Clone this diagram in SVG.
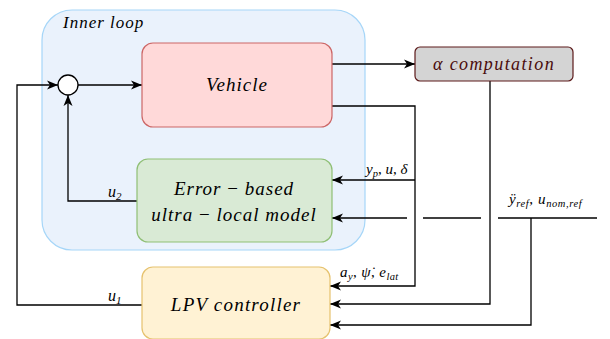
<svg xmlns="http://www.w3.org/2000/svg" width="610" height="339" viewBox="0 0 610 339">
  <style>
    .wire { fill: none; stroke: #000; stroke-width: 1.3; }
    text { font-family: "Liberation Serif", "DejaVu Serif", serif; font-style: italic; fill: #000; }
    .up { font-style: normal; }
  </style>
  <defs>
    <marker id="arrow" markerUnits="userSpaceOnUse" markerWidth="12" markerHeight="10" refX="11" refY="5" orient="auto">
      <path d="M0,0.5 L11,5 L0,9.5 L3,5 z" fill="#000"/>
    </marker>
  </defs>

  <!-- inner loop container -->
  <g id="inner-loop">
    <rect x="42" y="10" width="323" height="240" rx="30" fill="#eaf2fc" stroke="#a6d6f8" stroke-width="1.2"/>
    <text x="63" y="28" font-size="17" letter-spacing="1">Inner loop</text>
  </g>

  <!-- connectors -->
  <g id="connectors">
    <!-- u1 feedback into summing junction -->
    <polyline class="wire" points="142,305 17,305 17,85 58,85" marker-end="url(#arrow)"/>
    <!-- u2 from error model into summing junction -->
    <polyline class="wire" points="137,201 68,201 68,95" marker-end="url(#arrow)"/>
    <!-- junction to vehicle -->
    <line class="wire" x1="78" y1="85" x2="142" y2="85" marker-end="url(#arrow)"/>
    <!-- vehicle to alpha computation -->
    <line class="wire" x1="332" y1="64" x2="415" y2="64" marker-end="url(#arrow)"/>
    <!-- vehicle measurements -->
    <polyline class="wire" points="332,106 415,106 415,286 330,286" marker-end="url(#arrow)"/>
    <line class="wire" x1="415" y1="180" x2="332" y2="180" marker-end="url(#arrow)"/>
    <!-- alpha to LPV -->
    <polyline class="wire" points="490,81 490,304 330,304" marker-end="url(#arrow)"/>
    <!-- references, with jumps over the vertical wires -->
    <line class="wire" x1="498" y1="218" x2="597" y2="218"/>
    <line class="wire" x1="481" y1="218" x2="423" y2="218"/>
    <line class="wire" x1="407" y1="218" x2="332" y2="218" marker-end="url(#arrow)"/>
    <polyline class="wire" points="531,218 531,325 330,325" marker-end="url(#arrow)"/>

    <text x="108" y="197" font-size="16">u<tspan font-size="11" dy="3">2</tspan></text>
    <text x="108" y="301" font-size="16">u<tspan font-size="11" dy="3">1</tspan></text>
    <text x="366" y="174" font-size="15">y<tspan font-size="10.5" dy="3">p</tspan><tspan class="up" dy="-3">, </tspan>u<tspan class="up">, </tspan>δ</text>
    <text x="340" y="277" font-size="15" letter-spacing="0.4">a<tspan font-size="10.5" dy="3">y</tspan><tspan class="up" dy="-3">, </tspan>ψ̇<tspan class="up">, </tspan>e<tspan font-size="10.5" dy="3">lat</tspan></text>
    <text x="509" y="204" font-size="15" letter-spacing="0.6">ÿ<tspan font-size="10.5" dy="3">ref</tspan><tspan class="up" dy="-3">, </tspan>u<tspan font-size="10.5" dy="3">nom,ref</tspan></text>
  </g>

  <!-- summing junction -->
  <g id="sum">
    <circle cx="68" cy="85" r="10" fill="#fff" stroke="#000" stroke-width="1.3"/>
  </g>

  <g id="vehicle">
    <rect x="142" y="43" width="190" height="84" rx="11" fill="#ffd9d9" stroke="#cc6666" stroke-width="1.2"/>
    <text x="237" y="91" font-size="19" text-anchor="middle" letter-spacing="1">Vehicle</text>
  </g>

  <g id="alpha">
    <rect x="415" y="47" width="158" height="34" rx="5" fill="#d4d4d4" stroke="#5c1a1a" stroke-width="1.2"/>
    <text x="494" y="70" font-size="18" text-anchor="middle" letter-spacing="1.4" style="fill:#4a0c0c">α computation</text>
  </g>

  <g id="error-model">
    <rect x="137" y="159" width="195" height="83" rx="11" fill="#d9ead5" stroke="#8fbf75" stroke-width="1.2"/>
    <text x="234" y="195" font-size="19" text-anchor="middle" letter-spacing="1">Error <tspan class="up">−</tspan> based</text>
    <text x="234" y="221" font-size="19" text-anchor="middle" letter-spacing="1">ultra <tspan class="up">−</tspan> local model</text>
  </g>

  <g id="lpv">
    <rect x="142" y="267" width="188" height="72" rx="11" fill="#fff2d4" stroke="#e6c26e" stroke-width="1.2"/>
    <text x="236" y="311" font-size="19" text-anchor="middle" letter-spacing="1.2">LPV controller</text>
  </g>
</svg>
